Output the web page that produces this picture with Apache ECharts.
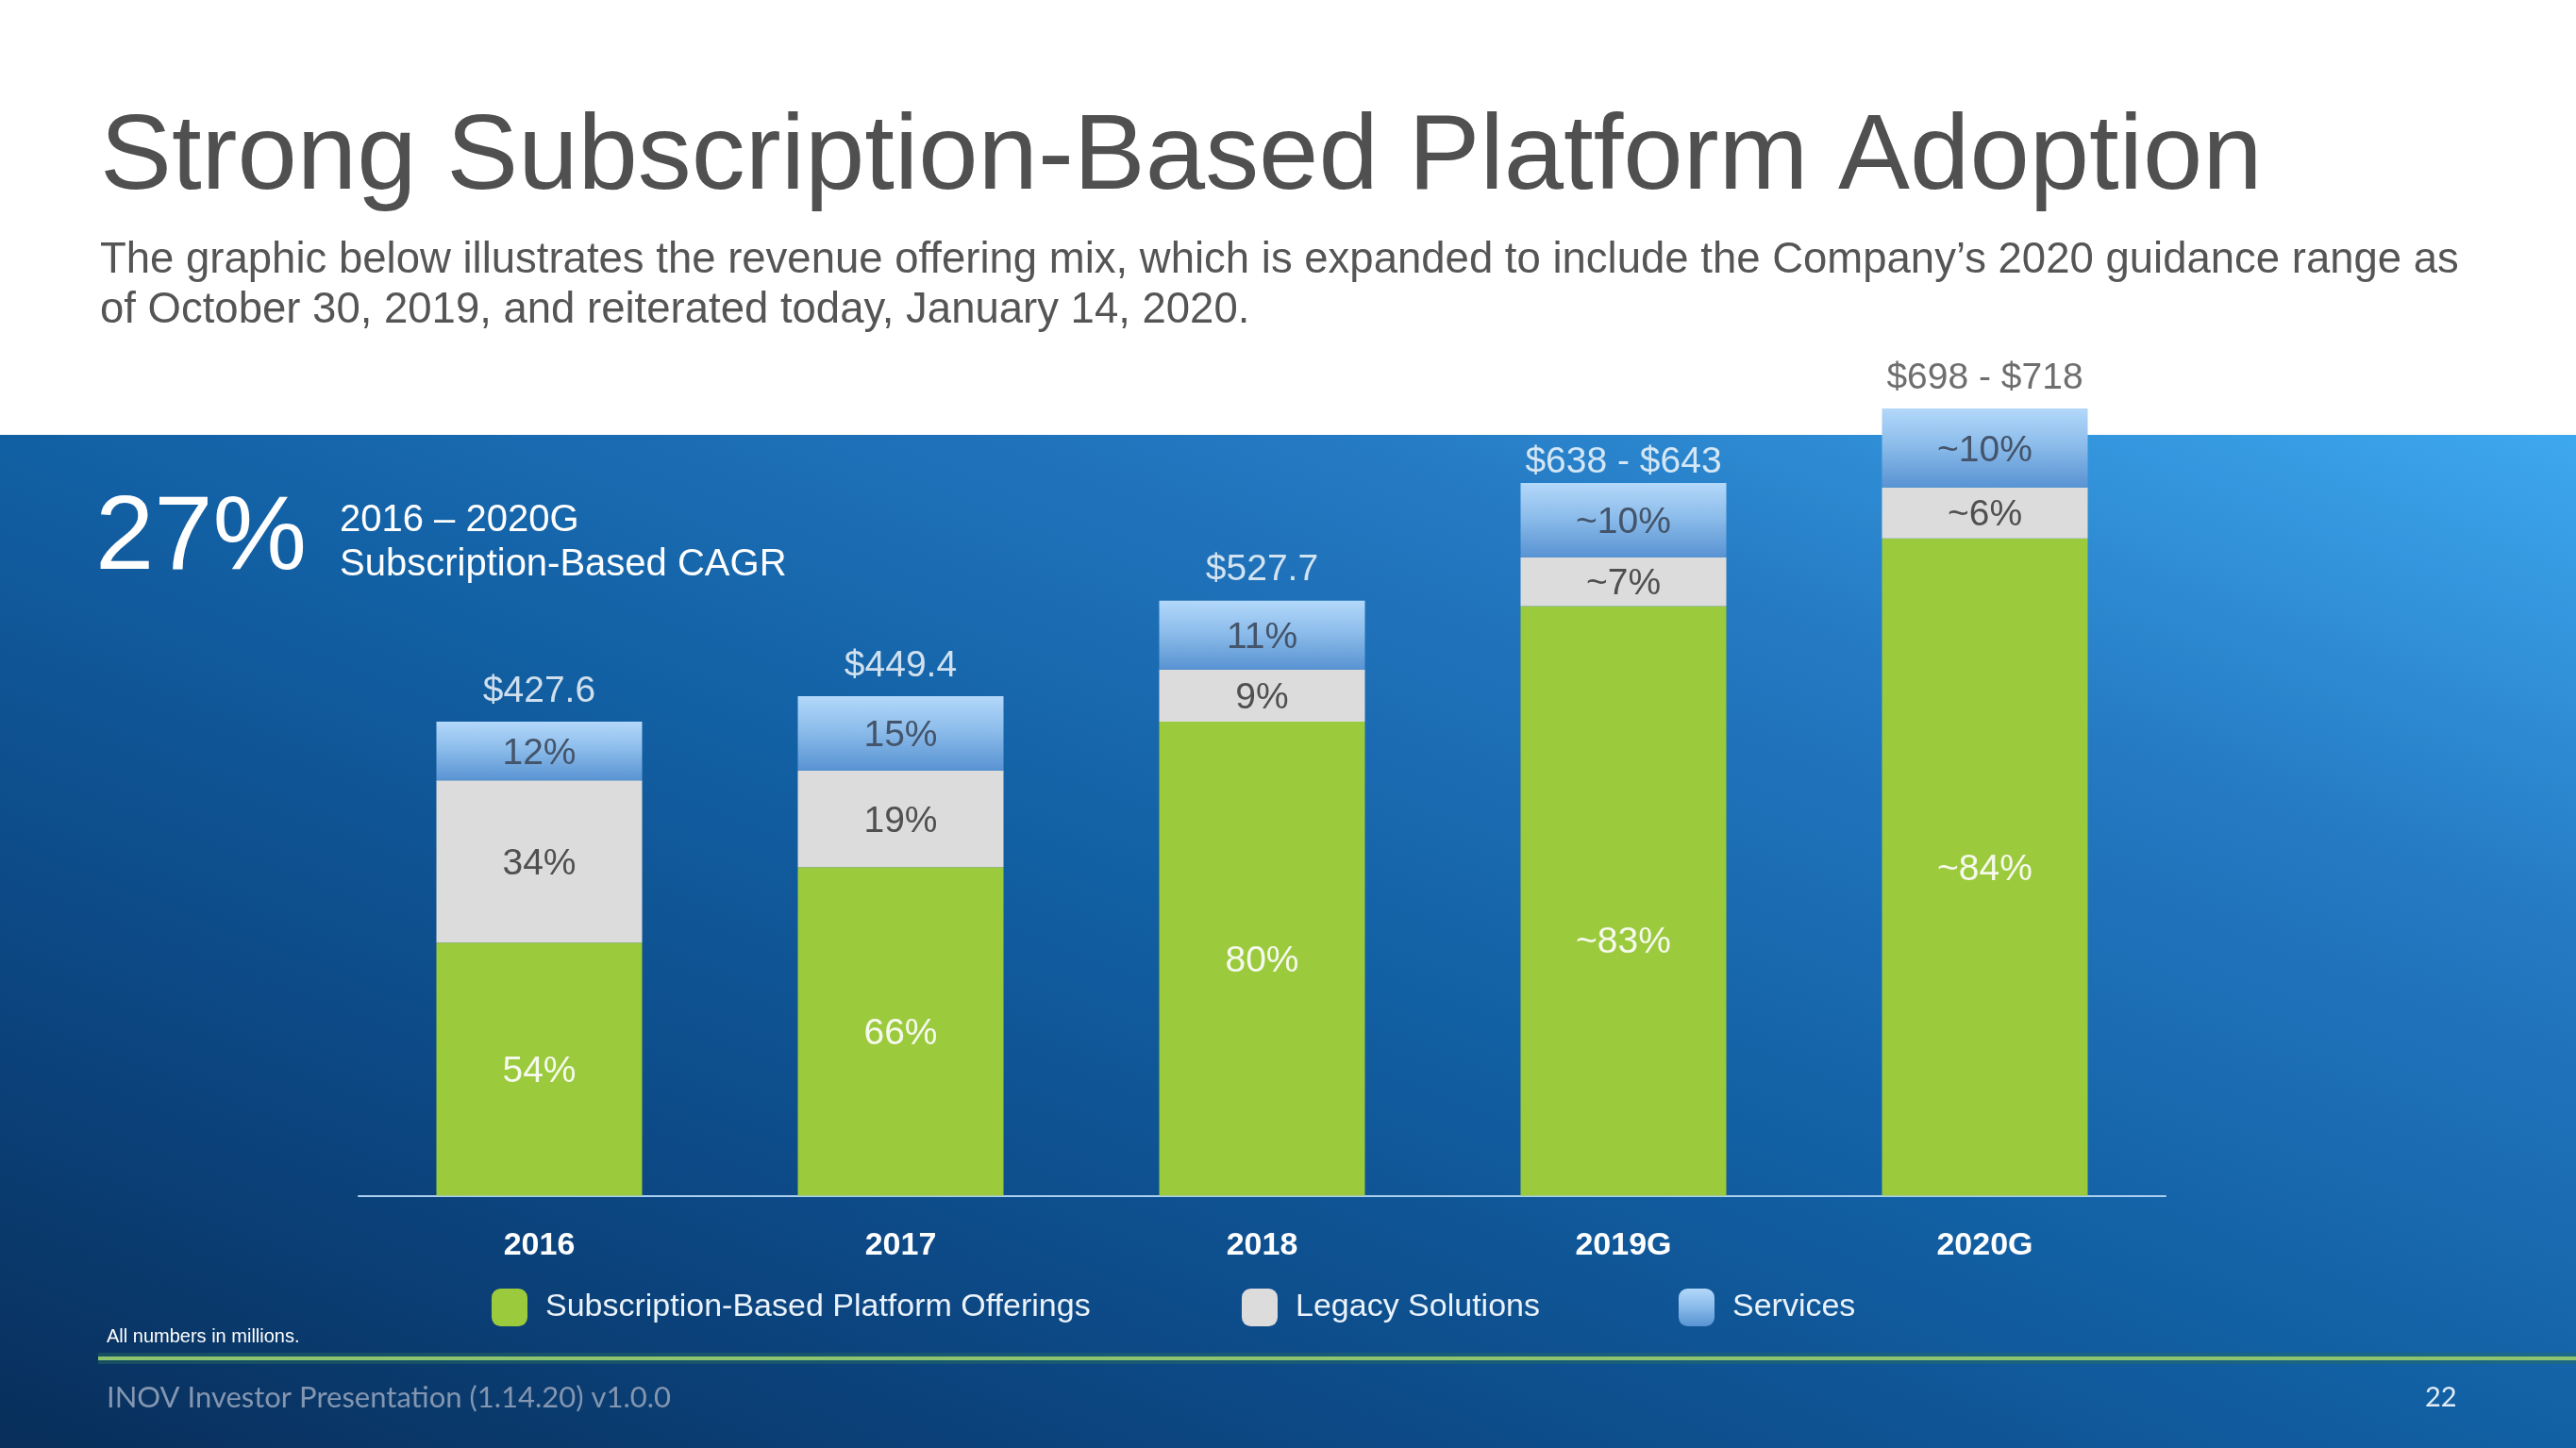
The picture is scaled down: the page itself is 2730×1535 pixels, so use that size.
<!DOCTYPE html>
<html>
<head>
<meta charset="utf-8">
<script src="https://cdn.jsdelivr.net/npm/echarts@6/dist/echarts.min.js"></script>
<style>
html,body{margin:0;padding:0;background:#fff;}
#chart{width:2730px;height:1535px;}
</style>
</head>
<body>
<div id="chart"></div>
<script>
// ---- data (USD millions, segment heights) ----
const categories = ['2016', '2017', '2018', '2019G', '2020G'];
const subscriptionValues = [228, 296, 427, 531, 592];
const legacyValues = [146, 87, 47, 44, 46];
const servicesValues = [53, 67, 62, 67, 71];
const subscriptionLabels = ['54%', '66%', '80%', '~83%', '~84%'];
const legacyLabels = ['34%', '19%', '9%', '~7%', '~6%'];
const servicesLabels = ['12%', '15%', '11%', '~10%', '~10%'];
const totalLabels = ['$427.6', '$449.4', '$527.7', '$638 - $643', '$698 - $718'];
const seriesNames = ['Subscription-Based Platform Offerings', 'Legacy Solutions', 'Services'];

const FONT = '"Liberation Sans", Arial, Helvetica, sans-serif';
const chart = echarts.init(document.getElementById('chart'));

const servicesGradient = new echarts.graphic.LinearGradient(0, 0, 0, 1, [
  { offset: 0, color: '#B3D8FA' },
  { offset: 0.45, color: '#8DBDEB' },
  { offset: 1, color: '#5893D2' }
]);

const pctLabel = (arr, color) => ({
  show: true,
  position: 'inside',
  offset: [0, 3],
  color: color,
  fontFamily: FONT,
  fontSize: 39,
  formatter: p => arr[p.dataIndex]
});

const subscriptionData = subscriptionValues.map((v, i) =>
  i === 3 ? { value: v, label: { offset: [0, 44] } } : v);

// anchor for the total labels: top of each stacked bar
const stackTops = categories.map((c, i) => subscriptionValues[i] + legacyValues[i] + servicesValues[i]);
const totalData = stackTops.map((v, i) => {
  if (i === 4) return { value: v, label: { color: '#4A4A4A' } };
  if (i === 3) return { value: v, label: { offset: [0, 10] } };
  return v;
});

const legendBase = {
  top: 1366,
  itemWidth: 38,
  itemHeight: 40,
  icon: 'roundRect',
  selectedMode: false,
  padding: 0,
  textStyle: { color: '#EAF2FA', fontSize: 34, fontFamily: FONT, padding: [0, 0, 0, 14] }
};

const option = {
  backgroundColor: '#ffffff',
  animation: false,
  title: {
    text: 'Strong Subscription-Based Platform Adoption',
    subtext: 'The graphic below illustrates the revenue offering mix, which is expanded to include the Company\u2019s 2020 guidance range as\nof October 30, 2019, and reiterated today, January 14, 2020.',
    left: 106,
    top: 109,
    padding: 0,
    itemGap: 21,
    textStyle: { color: '#505050', fontSize: 113.9, fontWeight: 'normal', fontFamily: FONT, lineHeight: 120 },
    subtextStyle: { color: '#555555', fontSize: 45.5, fontFamily: FONT, lineHeight: 53 }
  },
  legend: [
    Object.assign({}, legendBase, { left: 521, data: [seriesNames[0]] }),
    Object.assign({}, legendBase, { left: 1316, data: [seriesNames[1]] }),
    Object.assign({}, legendBase, { left: 1779, data: [seriesNames[2]] })
  ],
  grid: { left: 380, right: 435, top: 326, bottom: 267.5, containLabel: false },
  xAxis: {
    type: 'category',
    data: categories,
    axisLine: { lineStyle: { color: '#A9CFEF', width: 2 } },
    axisTick: { show: false },
    axisLabel: { color: '#FFFFFF', fontSize: 34, fontWeight: 'bold', fontFamily: FONT, margin: 36 }
  },
  yAxis: { type: 'value', min: 0, max: 800, show: false, splitLine: { show: false } },
  graphic: [
    {
      type: 'rect', z: -10, silent: true,
      shape: { x: 0, y: 461, width: 2730, height: 1074 },
      style: {
        fill: new echarts.graphic.LinearGradient(1731, 68, 999, 1928, [
          { offset: 0, color: '#3EA8EE' },
          { offset: 0.25, color: '#2479C2' },
          { offset: 0.5, color: '#1260A4' },
          { offset: 0.75, color: '#0C4783' },
          { offset: 1, color: '#082E5A' }
        ], true)
      }
    },
    { type: 'line', z: -5, silent: true, shape: { x1: 104, y1: 1440, x2: 2730, y2: 1440 },
      style: { stroke: 'rgba(40,110,95,0.45)', lineWidth: 12 } },
    { type: 'line', z: -4, silent: true, shape: { x1: 104, y1: 1440, x2: 2730, y2: 1440 },
      style: { stroke: '#8DC470', lineWidth: 4 } },
    { type: 'text', left: 101, top: 572 - 56, silent: true,
      style: { text: '27%', fill: '#FFFFFF', fontSize: 112, fontFamily: FONT, lineHeight: 112 } },
    { type: 'text', left: 360, top: 552 - 22, silent: true,
      style: { text: '2016 \u2013 2020G', fill: '#FFFFFF', fontSize: 40, fontFamily: FONT, lineHeight: 44 } },
    { type: 'text', left: 360, top: 599 - 22, silent: true,
      style: { text: 'Subscription-Based CAGR', fill: '#FFFFFF', fontSize: 40, fontFamily: FONT, lineHeight: 44 } },
    { type: 'text', left: 113, top: 1417 - 11, silent: true,
      style: { text: 'All numbers in millions.', fill: '#FFFFFF', fontSize: 20, fontFamily: FONT, lineHeight: 22 } },
    { type: 'text', left: 113, top: 1482 - 17, silent: true,
      style: { text: 'INOV Investor Presentation (1.14.20) v1.0.0', fill: '#8496B0', fontSize: 31, fontFamily: 'Lato, "Open Sans", sans-serif', lineHeight: 34 } },
    { type: 'text', left: 2570, top: 1482 - 16, silent: true,
      style: { text: '22', fill: '#E2ECF7', fontSize: 29, fontFamily: 'Lato, "Open Sans", sans-serif', lineHeight: 32 } }
  ],
  series: [
    {
      name: seriesNames[0], type: 'bar', stack: 'total', barWidth: 218,
      itemStyle: { color: '#9BCA3D' },
      label: pctLabel(subscriptionLabels, '#F6F9EE'),
      data: subscriptionData
    },
    {
      name: seriesNames[1], type: 'bar', stack: 'total', barWidth: 218,
      itemStyle: { color: '#DCDCDD' },
      label: pctLabel(legacyLabels, '#505050'),
      data: legacyValues
    },
    {
      name: seriesNames[2], type: 'bar', stack: 'total', barWidth: 218,
      itemStyle: { color: servicesGradient },
      label: pctLabel(servicesLabels, '#44546A'),
      data: servicesValues
    },
    {
      name: 'Total', type: 'scatter', symbolSize: 1, z: 5,
      itemStyle: { color: 'rgba(0,0,0,0)' },
      label: {
        show: true, position: 'top', distance: 12,
        color: '#FFFFFF', fontSize: 39, fontFamily: FONT,
        formatter: p => totalLabels[p.dataIndex]
      },
      data: totalData
    }
  ]
};
chart.setOption(option);
</script>
</body>
</html>
